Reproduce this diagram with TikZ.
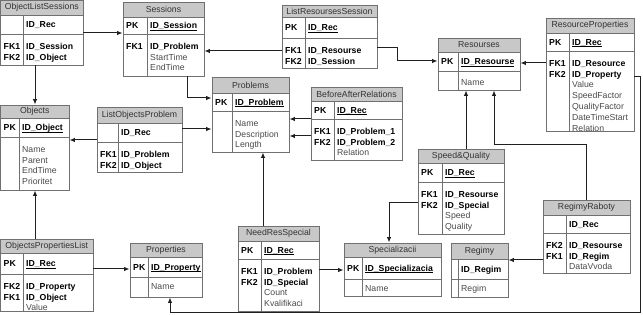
\documentclass[tikz,border=0pt]{standalone}
\usepackage{fontspec}
\setmainfont{Liberation Sans}
\usetikzlibrary{arrows.meta,fit}
\definecolor{hdrfill}{HTML}{C8C8C8}
\definecolor{bordergray}{HTML}{707070}
\definecolor{attrgray}{HTML}{4A4A4A}
\definecolor{linecol}{HTML}{202020}
\newsavebox\ulbx
\newcommand\pa[1]{\sbox\ulbx{\bfseries #1}\rlap{\rule[-1.6pt]{\wd\ulbx}{0.6pt}}\usebox\ulbx}
\newcommand\fa[1]{\textbf{#1}}
\newcommand\ga[1]{\textcolor{attrgray}{#1}}
\tikzset{
  tline/.style={draw=bordergray, line width=0.9pt},
  tbox/.style={draw=bordergray, line width=0.9pt, inner sep=0pt},
  htext/.style={text=black!80, inner sep=0pt},
  keyt/.style={font=\fontsize{8.7}{10}\selectfont\bfseries, inner sep=0pt, anchor=base west},
  attr/.style={inner sep=0pt, anchor=base west},
  conn/.style={draw=linecol, line width=1pt, -{Latex[length=5.5pt,width=4.5pt]}},
}
% name, x1, y1, x2, y2, keycol x, header bottom, pk bottom, title
\newcommand\tbl[9]{%
  \fill[hdrfill] (#2,#3) rectangle (#4,#7);
  \draw[tline] (#2,#7) -- (#4,#7);
  \draw[tline] (#2,#8) -- (#4,#8);
  \draw[tline] (#6,#7) -- (#6,#5);
  \node[tbox, fit={(#2,#3)(#4,#5)}] (#1) {};
  \node[htext] (#1-h) at ({(#2+#4)/2},{(#3+#7)/2}) {#9};
}
% name, x1, kx, hb, pb, key, attr
\newcommand\pkrow[7]{%
  \node[keyt] (#1-pk) at ({#2+3},{(#4+#5)/2+3.3}) {#6};
  \node[attr] (#1-pa) at ({#3+3},{(#4+#5)/2+3.3}) {#7};
}
% name, x1, kx, pb, list
\newcommand\fkrows[5]{%
  \foreach \k/\a [count=\i from 0] in {#5} {
    \node[keyt] (#1-k\i) at ({#2+3},{#4+15.3+\i*10.8}) {\k};
    \node[attr] (#1-a\i) at ({#3+3},{#4+15.3+\i*10.8}) {\a};
  }
}
\begin{document}
\begin{tikzpicture}[x=1pt,y=-1pt,font=\fontsize{8.7}{10}\selectfont]
\fill[white] (0,0) rectangle (643,315);
\useasboundingbox (0,0) rectangle (643,315);

\tbl{ols}{0.5}{0.5}{83}{65}{23}{15}{34}{ObjectListSessions}
\pkrow{ols}{0.5}{23}{15}{34}{}{\fa{ID\_Rec}}
\fkrows{ols}{0.5}{23}{34}{FK1/\fa{ID\_Session}, FK2/\fa{ID\_Object}}

\tbl{sess}{123}{2}{204}{76}{147}{17}{34}{Sessions}
\pkrow{sess}{123}{147}{17}{34}{PK}{\pa{ID\_Session}}
\fkrows{sess}{123}{147}{34}{FK1/\fa{ID\_Problem}, {}/\ga{StartTime}, {}/\ga{EndTime}}

\tbl{lrs}{282}{5}{377}{68}{305}{17}{38}{ListResoursesSession}
\pkrow{lrs}{282}{305}{17}{38}{PK}{\pa{ID\_Rec}}
\fkrows{lrs}{282}{305}{38}{FK1/\fa{ID\_Resourse}, FK2/\fa{ID\_Session}}

\tbl{res}{438}{38}{520}{90}{458}{52}{71}{Resourses}
\pkrow{res}{438}{458}{52}{71}{PK}{\pa{ID\_Resourse}}
\fkrows{res}{438}{458}{70}{{}/\ga{Name}}

\tbl{rp}{546}{18}{634}{131.5}{569}{33}{51}{ResourceProperties}
\pkrow{rp}{546}{569}{33}{51}{PK}{\pa{ID\_Rec}}
\fkrows{rp}{546}{569}{51}{FK1/\fa{ID\_Resource}, FK2/\fa{ID\_Property}, {}/\ga{Value}, {}/\ga{SpeedFactor}, {}/\ga{QualityFactor}, {}/\ga{DateTimeStart}, {}/\ga{Relation}}

\tbl{obj}{0.5}{105}{69}{190}{19}{118}{137}{Objects}
\pkrow{obj}{0.5}{19}{118}{137}{PK}{\pa{ID\_Object}}
\fkrows{obj}{0.5}{19}{137}{{}/\ga{Name}, {}/\ga{Parent}, {}/\ga{EndTime}, {}/\ga{Prioritet}}

\tbl{lop}{97}{107}{182}{172}{118}{123}{142}{ListObjectsProblem}
\pkrow{lop}{97}{118}{123}{142}{}{\fa{ID\_Rec}}
\fkrows{lop}{97}{118}{142}{FK1/\fa{ID\_Problem}, FK2/\fa{ID\_Object}}

\tbl{prob}{212}{77}{289}{152}{232}{93}{111}{Problems}
\pkrow{prob}{212}{232}{93}{111}{PK}{\pa{ID\_Problem}}
\fkrows{prob}{212}{232}{111}{{}/\ga{Name}, {}/\ga{Description}, {}/\ga{Length}}

\tbl{bar}{311}{87}{402}{160}{334}{101}{119}{BeforeAfterRelations}
\pkrow{bar}{311}{334}{101}{119}{PK}{\pa{ID\_Rec}}
\fkrows{bar}{311}{334}{119}{FK1/\fa{ID\_Problem\_1}, FK2/\fa{ID\_Problem\_2}, {}/\ga{Relation}}

\tbl{sq}{418}{149}{504}{234}{442}{163}{182}{Speed\&Quality}
\pkrow{sq}{418}{442}{163}{182}{PK}{\pa{ID\_Rec}}
\fkrows{sq}{418}{442}{182}{FK1/\fa{ID\_Resourse}, FK2/\fa{ID\_Special}, {}/\ga{Speed}, {}/\ga{Quality}}

\tbl{rr}{543}{200}{630}{273}{566}{215}{233}{RegimyRaboty}
\pkrow{rr}{543}{566}{215}{233}{}{\fa{ID\_Rec}}
\fkrows{rr}{543}{566}{233}{FK2/\fa{ID\_Resourse}, FK1/\fa{ID\_Regim}, {}/\ga{DataVvoda}}

\tbl{reg}{451}{243}{508}{297}{458}{259}{279}{Regimy}
\pkrow{reg}{451}{458}{259}{279}{}{\fa{ID\_Regim}}
\fkrows{reg}{451}{458}{276}{{}/\ga{Regim}}

\tbl{spec}{344}{243}{441}{296}{362}{257}{279}{Specializacii}
\pkrow{spec}{344}{362}{257}{279}{PK}{\pa{ID\_Specializacia}}
\fkrows{spec}{344}{362}{276}{{}/\ga{Name}}

\tbl{nrs}{238}{226}{319}{311}{261}{241}{259}{NeedResSpecial}
\pkrow{nrs}{238}{261}{241}{259}{PK}{\pa{ID\_Rec}}
\fkrows{nrs}{238}{261}{259}{FK1/\fa{ID\_Problem}, FK2/\fa{ID\_Special}, {}/\ga{Count}, {}/\ga{Kvalifikaci}}

\tbl{props}{130}{243}{202}{297}{148}{257}{277}{Properties}
\pkrow{props}{130}{148}{257}{277}{PK}{\pa{ID\_Property}}
\fkrows{props}{130}{148}{274}{{}/\ga{Name}}

\tbl{opl}{0.5}{239}{93}{311}{23}{253}{274}{ObjectsPropertiesList}
\pkrow{opl}{0.5}{23}{253}{274}{PK}{\pa{ID\_Rec}}
\fkrows{opl}{0.5}{23}{274}{FK2/\fa{ID\_Property}, FK1/\fa{ID\_Object}, {}/\ga{Value}}

% connectors
\draw[conn] (ols.east |- 0,33) -- (sess.west |- 0,33);
\draw[conn] (ols.south -| 35,0) -- (obj.north -| 35,0);
\draw[conn] (lrs.west |- 0,51) -- (sess.east |- 0,51);
\draw[conn] (lrs.east |- 0,48) -| (397,61) -- (res.west |- 0,61);
\draw[conn] (sess.south -| 187,0) |- (prob.west |- 0,98);
\draw[conn] (lop.west |- 0,140) -- (obj.east |- 0,140);
\draw[conn] (lop.east |- 0,129) -- (prob.west |- 0,129);
\draw[conn] (bar.west |- 0,119) -- (prob.east |- 0,119);
\draw[conn] (bar.west |- 0,136) -- (prob.east |- 0,136);
\draw[conn] (rp.west |- 0,63) -- (res.east |- 0,63);
\draw[conn] (rp.east |- 0,77) -| (640,313) -| (props.south -| 170,0);
\draw[conn] (sq.north -| 466,0) -- (res.south -| 466,0);
\draw[conn] (rr.north -| 586,0) |- (494,145) -- (res.south -| 494,0);
\draw[conn] (sq.west |- 0,203) -| (spec.north -| 389,0);
\draw[conn] (rr.west |- 0,260) -- (reg.east |- 0,260);
\draw[conn] (nrs.east |- 0,270) -- (spec.west |- 0,270);
\draw[conn] (nrs.north -| 263,0) -- (prob.south -| 263,0);
\draw[conn] (opl.north -| 35,0) -- (obj.south -| 35,0);
\draw[conn] (opl.east |- 0,269) -- (props.west |- 0,269);
\end{tikzpicture}
\end{document}
